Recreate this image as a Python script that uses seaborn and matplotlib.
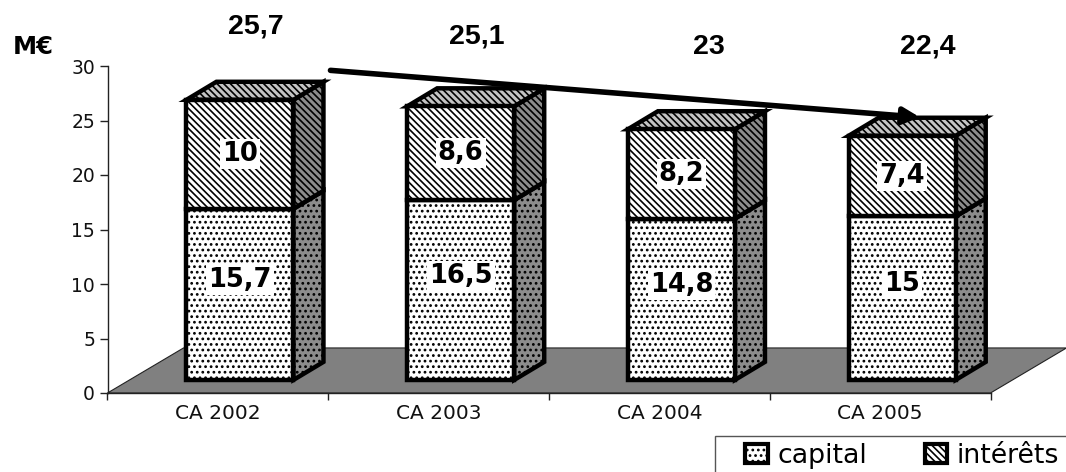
import numpy as np
import pandas as pd
import seaborn as sns
import matplotlib.pyplot as plt
from matplotlib.patches import Patch, Polygon, Rectangle

years = ['CA 2002', 'CA 2003', 'CA 2004', 'CA 2005']
capital = [15.7, 16.5, 14.8, 15]
interets = [10, 8.6, 8.2, 7.4]
capital_labels = ['15,7', '16,5', '14,8', '15']
interets_labels = ['10', '8,6', '8,2', '7,4']
total_labels = ['25,7', '25,1', '23', '22,4']

W, H = 1066, 472
PX_X = 220.7   # px per category
PX_Y = 10.89   # px per y unit
DX = 30 / PX_X
DY = 18 / PX_Y
BASE = 1.2     # bars float above the floor front edge
SHIFT = 0.1
DOTS = '...'
LINES = '\\\\\\\\\\'
WIDE = ['DejaVu Sans']


def add_depth(ax, patch, hatch):
    x0, x1 = patch.get_x(), patch.get_x() + patch.get_width()
    y0, y1 = patch.get_y(), patch.get_y() + patch.get_height()
    side = [(x1, y0), (x1 + DX, y0 + DY), (x1 + DX, y1 + DY), (x1, y1)]
    ax.add_patch(Polygon(side, closed=True, facecolor='#8c8c8c', edgecolor='black',
                         hatch=hatch, linewidth=3.2, zorder=2.5, clip_on=False))
    return x0, x1, y1


def main():
    sns.set_theme(style='white')
    plt.rcParams['font.family'] = ['Liberation Sans', 'DejaVu Sans']
    plt.rcParams['hatch.linewidth'] = 1.2

    df = pd.DataFrame({'annee': years, 'capital': capital, 'interets': interets})

    fig = plt.figure(figsize=(W / 100, H / 100), dpi=100)
    ax = fig.add_axes([107.5 / W, 1 - 393 / H, 883 / W, 327 / H])

    sns.barplot(data=df, x='annee', y='capital', bottom=BASE, width=107 / PX_X, color='white',
                saturation=1, edgecolor='black', linewidth=3.2, hatch=DOTS, ax=ax, zorder=3)
    sns.barplot(data=df, x='annee', y='interets', bottom=[BASE + c for c in capital],
                width=107 / PX_X, color='white', saturation=1, edgecolor='black', linewidth=3.2,
                hatch=LINES, ax=ax, zorder=3)

    ax.set_xlim(-0.5, 3.5)
    ax.set_ylim(0, 30)

    # floor of the 3D box
    ax.add_patch(Polygon([(-0.5, 0), (3.5, 0), (3.5 + 76 / PX_X, 45 / PX_Y), (-0.5 + 76 / PX_X, 45 / PX_Y)],
                         closed=True, facecolor='#808080', edgecolor='#222222', linewidth=0.8,
                         zorder=1, clip_on=False))

    for p in list(ax.patches):
        if p.get_zorder() != 3:
            continue
        p.set_x(p.get_x() + SHIFT)
        p.set_clip_on(False)
        hatch = p.get_hatch()
        x0, x1, y1 = add_depth(ax, p, hatch)
        if hatch == LINES:
            top = [(x0, y1), (x0 + DX, y1 + DY), (x1 + DX, y1 + DY), (x1, y1)]
            ax.add_patch(Polygon(top, closed=True, facecolor='#c4c4c4', edgecolor='black',
                                 hatch=LINES, linewidth=3.2, zorder=2.5, clip_on=False))

    # values on the bars
    box = dict(facecolor='white', edgecolor='none', pad=1.5)
    for i in range(len(years)):
        xc = i + SHIFT
        ax.text(xc, BASE + capital[i] / 2 + 1.3, capital_labels[i], ha='center', va='center',
                fontsize=18.5, fontweight='bold', family=WIDE, color='black', bbox=box, zorder=5)
        ax.text(xc, BASE + capital[i] + interets[i] / 2, interets_labels[i], ha='center', va='center',
                fontsize=18.5, fontweight='bold', family=WIDE, color='black', bbox=box, zorder=5)

    # totals above the plot
    total_px = [(256, 27), (477, 37), (709, 47), (928, 47)]
    for txt, (px, py) in zip(total_labels, total_px):
        fig.text(px / W, 1 - py / H, txt, ha='center', va='center', fontsize=20.5,
                 fontweight='bold', color='black')
    fig.text(33 / W, 1 - 47 / H, 'M€', ha='center', va='center', fontsize=17.5,
             fontweight='bold', family=WIDE, color='black')

    # trend arrow
    ax.annotate('', xy=(3 + 0.18, capital[3] + interets[3] + 2.9),
                xytext=(0.51, capital[0] + interets[0] + 3.9),
                arrowprops=dict(arrowstyle='-|>,head_length=0.8,head_width=0.4', color='black',
                                linewidth=4, shrinkA=0, shrinkB=0),
                annotation_clip=False, zorder=6)

    # axes
    sns.despine(ax=ax)
    for s in ['left', 'bottom']:
        ax.spines[s].set_color('#222222')
        ax.spines[s].set_linewidth(1)
        ax.spines[s].set_zorder(1.5)
    ax.set_yticks(range(0, 31, 5))
    ax.set_xticks(np.arange(-0.5, 3.6, 1))
    ax.set_xticklabels([])
    ax.set_xticks(range(len(years)), labels=years, minor=True)
    ax.tick_params(axis='x', which='major', length=5, width=1, color='#222222', bottom=True)
    ax.tick_params(axis='x', which='minor', length=0, labelsize=14.5, pad=8, labelcolor='#111111')
    ax.tick_params(axis='y', length=6, width=1, color='#222222', left=True, labelsize=13.5,
                   pad=3, labelcolor='#111111')
    for t in ax.get_xticklabels(minor=True) + ax.get_yticklabels():
        t.set_family(WIDE)
    ax.set_xlabel('')
    ax.set_ylabel('')

    # legend box runs off the image edge like the original
    fig.add_artist(Rectangle((715 / W, -10 / H), 400 / W, (36 + 10) / H, transform=fig.transFigure,
                             facecolor='white', edgecolor='#555555', linewidth=1))
    handles = [
        Patch(facecolor='white', edgecolor='black', hatch=DOTS, linewidth=3, label='capital'),
        Patch(facecolor='white', edgecolor='black', hatch=LINES, linewidth=3, label='intérêts'),
    ]
    fig.legend(handles=handles, loc='center left', bbox_to_anchor=(745 / W, 1 - 456 / H), ncol=2,
               frameon=False, handlelength=0.85, handleheight=0.75,
               handletextpad=0.35, columnspacing=2.15, borderaxespad=0, borderpad=0,
               labelcolor='black', prop={'family': 'DejaVu Sans', 'size': 19.3})

    fig.savefig('out.png', dpi=100)


if __name__ == '__main__':
    main()
